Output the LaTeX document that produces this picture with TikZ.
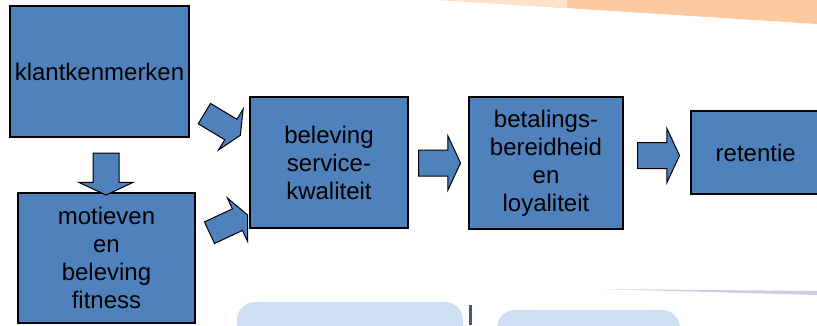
\documentclass[tikz,border=0pt]{standalone}
\usepackage{fontspec}
\setmainfont{Liberation Sans}
\usetikzlibrary{shapes.arrows}

\definecolor{boxblue}{RGB}{79,129,189}
\definecolor{bandorange}{RGB}{253,201,160}
\definecolor{bandlight}{RGB}{254,226,204}
\definecolor{paleblue}{RGB}{206,223,243}
\definecolor{lavender}{RGB}{208,203,230}
\definecolor{tickblue}{RGB}{70,90,120}

\begin{document}
\begin{tikzpicture}[x=1pt, y=1pt,
  box/.style={rectangle, draw=black, line width=1.5pt, fill=boxblue, align=center, inner sep=0pt, font=\fontsize{24}{28}\selectfont},
  blockarrow/.style={single arrow, draw=black, line width=1pt, fill=boxblue, inner xsep=0pt, inner ysep=12.5pt, minimum height=42pt, single arrow head extend=14pt, single arrow tip angle=130},
  slantarrow/.style={blockarrow, inner ysep=11.4pt, single arrow head extend=12pt}]
  \clip (0,0) rectangle (817,325);
  % slide background
  \fill[bandorange] (440,325) -- (817,325) -- (817,301) -- cycle;
  \fill[bandlight] (440,325) -- (567,325) -- (567,317) -- cycle;
  \fill[lavender] (600,36) -- (817,34) -- (817,30) -- cycle;
  \fill[paleblue, rounded corners=18pt] (237,-30) rectangle (463,23);
  \fill[paleblue, rounded corners=18pt] (497,-30) rectangle (680,15);
  \fill[tickblue] (469,0) rectangle (472,20);

  \node[box, minimum width=179pt, minimum height=131pt] (kk) at (99.5,253.5) {klantkenmerken};
  \node[box, minimum width=177pt, minimum height=130pt] (mot) at (106.5,67) {motieven\\en\\beleving\\fitness};
  \node[box, minimum width=158pt, minimum height=131pt] (bsk) at (329,162.5) {beleving\\service-\\kwaliteit};
  \node[box, minimum width=154pt, minimum height=132pt] (bet) at (546,162) {betalings-\\bereidheid\\en\\loyaliteit};
  \node[box, minimum width=130pt, minimum height=83pt, anchor=west] (ret) at (690,172.5) {retentie};

  \node[blockarrow, rotate=-90] (kk-mot) at (106,154) {};
  \node[slantarrow, rotate=-31] (kk-bsk) at (220,202) {};
  \node[slantarrow, rotate=25] (mot-bsk) at (226,100) {};
  \node[blockarrow] (bsk-bet) at (436.5,162) {};
  \node[blockarrow] (bet-ret) at (655.5,169.5) {};
\end{tikzpicture}
\end{document}
